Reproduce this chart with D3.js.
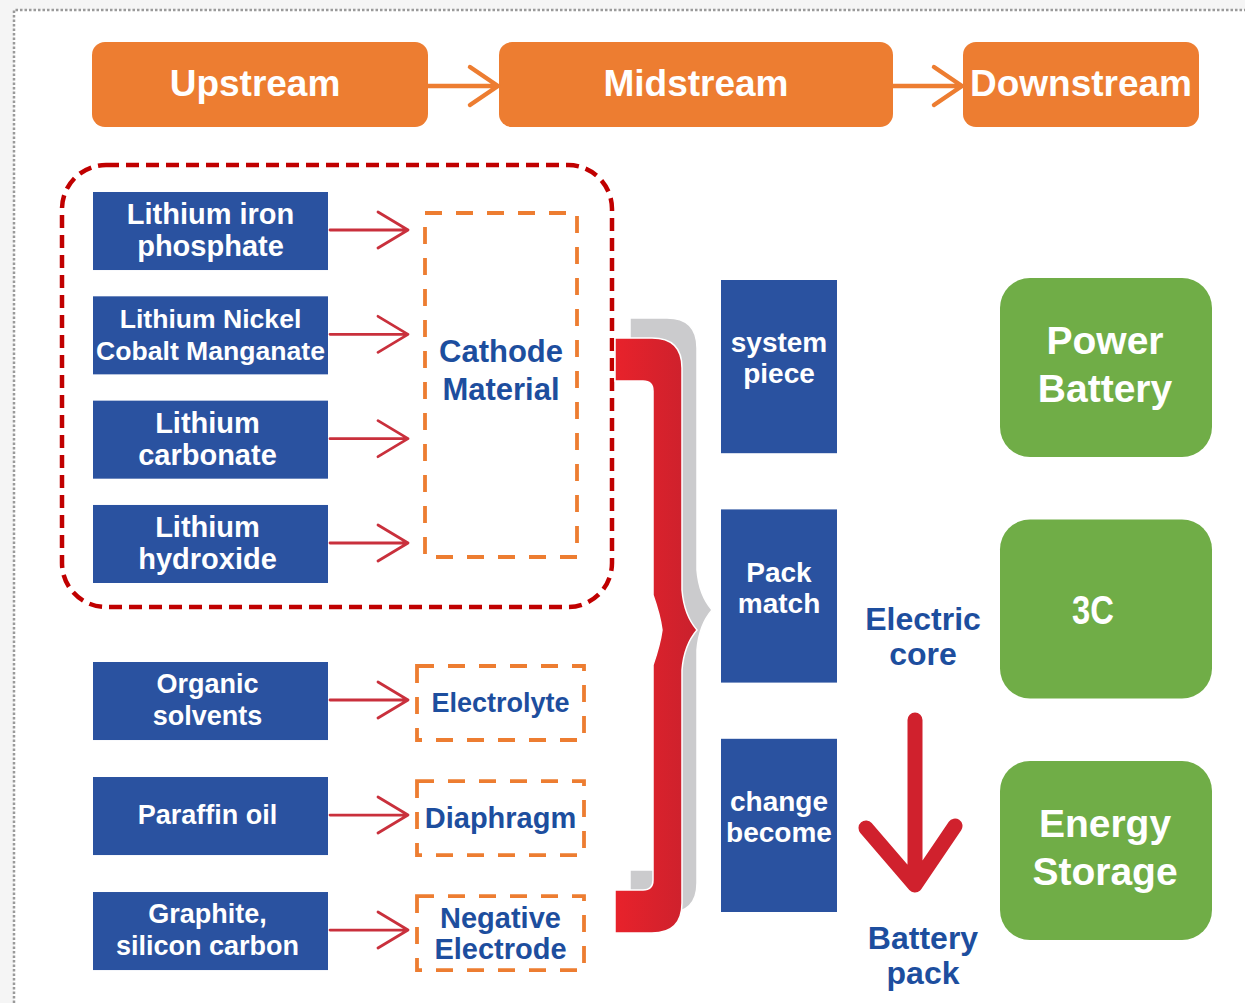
<!DOCTYPE html>
<html lang="en">
<head>
<meta charset="UTF-8">
<title>Lithium Battery Industry Chain</title>
<script src="https://d3js.org/d3.v7.min.js"></script>
<style>
  html, body { margin: 0; padding: 0; background: #f5f5f5; }
  svg { display: block; }
  text { font-family: "Liberation Sans", Arial, sans-serif; font-weight: bold; }
</style>
</head>
<body>
<div id="chart"></div>
<script>
// ---- content ----
const stages = ["Upstream", "Midstream", "Downstream"];
const rawMaterials = [
  ["Lithium iron", "phosphate"],
  ["Lithium Nickel", "Cobalt Manganate"],
  ["Lithium", "carbonate"],
  ["Lithium", "hydroxide"],
  ["Organic", "solvents"],
  ["Paraffin oil"],
  ["Graphite,", "silicon carbon"]
];
const rawTarget = [0, 0, 0, 0, 1, 2, 3];   // which material each raw feeds
const materials = [["Cathode", "Material"], ["Electrolyte"], ["Diaphragm"], ["Negative", "Electrode"]];
const cellSteps = [["system", "piece"], ["Pack", "match"], ["change", "become"]];
const cellLabel = ["Electric", "core"];
const packLabel = ["Battery", "pack"];
const applications = [["Power", "Battery"], ["3C"], ["Energy", "Storage"]];

// ---- layout ----
const W = 1245, H = 1003;
const orange = "#ED7D31", blue = "#2A52A0", textBlue = "#1D4E9E", green = "#70AD47", red = "#C9303C";
const headerX = [[92, 428], [499, 893], [963, 1199]];

const svg = d3.select("#chart").append("svg").attr("width", W).attr("height", H);

svg.append("rect").attr("x", 14).attr("y", 10).attr("width", W - 14).attr("height", H - 10).attr("fill", "#fff");
svg.append("path").attr("d", `M14,${H} L14,10 L${W},10`)
  .attr("fill", "none").attr("stroke", "#9a9a9a").attr("stroke-width", 2.5).attr("stroke-dasharray", "2.5,2");

const defs = svg.append("defs");
const grad = defs.append("linearGradient").attr("id", "braceRed").attr("x1", "0").attr("x2", "1");
grad.append("stop").attr("offset", "0").attr("stop-color", "#E8222B");
grad.append("stop").attr("offset", "1").attr("stop-color", "#C9212D");

function addLines(g, lines, cx, cy, size, lh, color) {
  const t = g.append("text").attr("text-anchor", "middle").attr("fill", color).style("font-size", size + "px");
  lines.forEach((s, i) => {
    t.append("tspan").attr("x", cx).attr("y", cy + (i - (lines.length - 1) / 2) * lh).attr("dy", "0.35em").text(s);
  });
  return t;
}

function chevron(g, x0, x1, y, head, half, color, w) {
  g.append("path")
    .attr("d", `M${x0},${y} L${x1},${y} M${x1 - head},${y - half} L${x1},${y} L${x1 - head},${y + half}`)
    .attr("fill", "none").attr("stroke", color).attr("stroke-width", w)
    .attr("stroke-linecap", "round").attr("stroke-linejoin", "round");
}

// ---- stage headers ----
const hy0 = 42, hy1 = 127;
stages.forEach((s, i) => {
  const [x0, x1] = headerX[i];
  svg.append("rect").attr("x", x0).attr("y", hy0).attr("width", x1 - x0).attr("height", hy1 - hy0)
    .attr("rx", 13).attr("fill", orange);
  addLines(svg, [s], (x0 + x1) / 2 - (i === 0 ? 5 : 0), (hy0 + hy1) / 2 - 1, 37, 0, "#fff");
  if (i > 0) chevron(svg, headerX[i - 1][1], x0 - 1, 86, 28, 19, orange, 4.5);
});

// ---- upstream raw materials ----
const topRows = d3.scaleBand().domain(d3.range(4)).range([192, 583]).paddingInner(0.252);
const lowRows = d3.scaleBand().domain(d3.range(4, 7)).range([662, 970]).paddingInner(0.322);
const rowY = i => i < 4 ? topRows(i) : lowRows(i);
const rowH = topRows.bandwidth();
const rawX0 = 93, rawX1 = 328;

svg.append("rect").attr("x", 62).attr("y", 165).attr("width", 550).attr("height", 442).attr("rx", 44)
  .attr("fill", "none").attr("stroke", "#C00000").attr("stroke-width", 4.5).attr("stroke-dasharray", "13,7");

rawMaterials.forEach((lines, i) => {
  const y = rowY(i);
  svg.append("rect").attr("x", rawX0).attr("y", y).attr("width", rawX1 - rawX0).attr("height", rowH).attr("fill", blue);
  const size = i < 4 ? 29 : 27;
  const cx = (rawX0 + rawX1) / 2 - (i < 2 ? 0 : 3);
  const t = addLines(svg, lines, cx, y + rowH / 2 - 1, size, 32, "#fff");
  const wMax = d3.max(t.selectAll("tspan").nodes(), n => n.getComputedTextLength());
  if (wMax > rawX1 - rawX0 - 6) t.style("font-size", (size * (rawX1 - rawX0 - 6) / wMax) + "px");
  const ay = y + rowH / 2 - 1;
  chevron(svg, rawX1 + 2, 408, ay, 30, 18, red, 2.8);
});

// ---- materials (dashed boxes) ----
materials.forEach((lines, m) => {
  let x0, x1, y0, y1, size = 29, lh = 31;
  if (m === 0) {
    x0 = 425; x1 = 577; y0 = rowY(0) + 21; y1 = rowY(3) + rowH - 26; size = 31; lh = 38;
  } else {
    const r = rawTarget.indexOf(m);
    const cy = rowY(r) + rowH / 2;
    x0 = 417; x1 = 584; y0 = cy - 35; y1 = cy + 39;
    if (m === 1) size = 27;
  }
  svg.append("rect").attr("x", x0).attr("y", y0).attr("width", x1 - x0).attr("height", y1 - y0)
    .attr("fill", "none").attr("stroke", orange).attr("stroke-width", 3.8).attr("stroke-dasharray", "17,14");
  addLines(svg, lines, (x0 + x1) / 2, m === 0 ? 370 : (y0 + y1) / 2, size, lh, textBlue);
});

// ---- brace ----
function bracePath(x, top, mid, bot) {
  return `M${x},${top} L${x + 37},${top} Q${x + 67},${top} ${x + 67},${top + 30}
    L${x + 67},${mid - 40} Q${x + 69},${mid - 15} ${x + 82},${mid} Q${x + 69},${mid + 15} ${x + 67},${mid + 40}
    L${x + 67},${bot - 30} Q${x + 67},${bot} ${x + 37},${bot} L${x},${bot} L${x},${bot - 43}
    L${x + 28},${bot - 43} Q${x + 38},${bot - 43} ${x + 38},${bot - 53}
    L${x + 38},${mid + 35} Q${x + 45},${mid + 15} ${x + 47},${mid} Q${x + 45},${mid - 15} ${x + 38},${mid - 35}
    L${x + 38},${top + 53} Q${x + 38},${top + 43} ${x + 28},${top + 43} L${x},${top + 43} Z`;
}
svg.append("path").attr("d", bracePath(630, 318, 610, 913)).attr("fill", "#cbcbcd")
  .attr("stroke", "#fff").attr("stroke-width", 1.5);
svg.append("path").attr("d", bracePath(615, 338, 630, 933)).attr("fill", "url(#braceRed)")
  .attr("stroke", "#fff").attr("stroke-width", 1.5);

// ---- midstream cell steps ----
const stepRows = d3.scaleBand().domain(d3.range(cellSteps.length)).range([280, 912]).paddingInner(0.245);
cellSteps.forEach((lines, i) => {
  const y = stepRows(i), h = stepRows.bandwidth();
  svg.append("rect").attr("x", 721).attr("y", y).attr("width", 116).attr("height", h).attr("fill", blue);
  addLines(svg, lines, 779, y + 78, 28, 31, "#fff");
});

addLines(svg, cellLabel, 923, 636, 32, 35, textBlue);
svg.append("path").attr("d", "M915,720 L915,885 M866,828 L915,885 L955,826")
  .attr("fill", "none").attr("stroke", "#D0212D").attr("stroke-width", 15)
  .attr("stroke-linecap", "round").attr("stroke-linejoin", "round");
addLines(svg, packLabel, 923, 955, 32, 35, textBlue);

// ---- downstream applications ----
const appRows = d3.scaleBand().domain(d3.range(applications.length)).range([278, 940]).paddingInner(0.259);
applications.forEach((lines, i) => {
  const y = appRows(i), h = appRows.bandwidth();
  svg.append("rect").attr("x", 1000).attr("y", y).attr("width", 212).attr("height", h).attr("rx", 30).attr("fill", green);
  if (lines.length === 1) {
    addLines(svg, lines, 0, 0, 40, 0, "#fff")
      .attr("transform", `translate(1093,${y + h / 2 + 1}) scale(0.82,1)`);
  } else {
    addLines(svg, lines, 1105, y + h / 2 - 3, 39, 48, "#fff");
  }
});
</script>
</body>
</html>
